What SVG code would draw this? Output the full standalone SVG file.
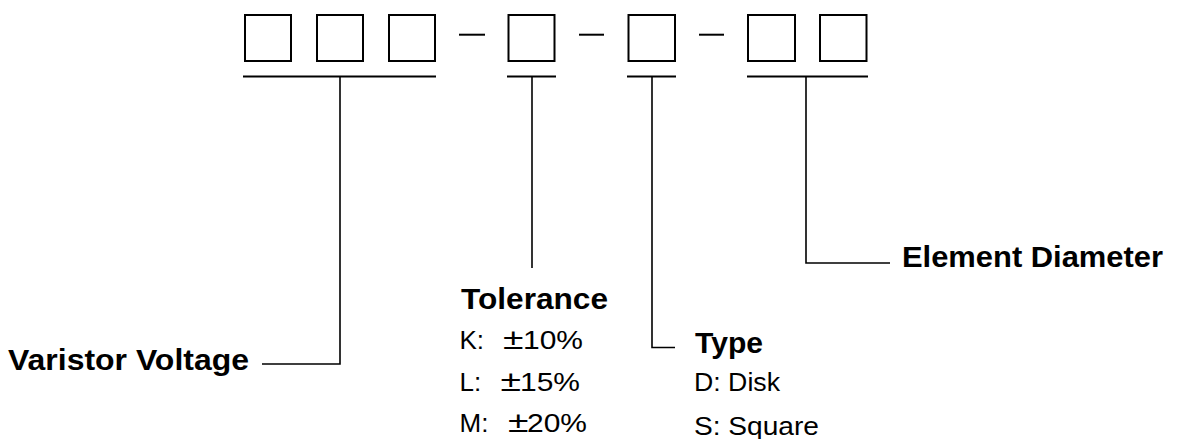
<svg xmlns="http://www.w3.org/2000/svg" width="1181" height="439" viewBox="0 0 1181 439">
<style>
.box{fill:none;stroke:#000;stroke-width:2}
.ln{fill:none;stroke:#000;stroke-width:2}
.cn{fill:none;stroke:#000;stroke-width:1.6}
.h{font-family:"Liberation Sans",Arial,sans-serif;font-weight:bold;font-size:30px;fill:#000}
.t{font-family:"Liberation Sans",Arial,sans-serif;font-size:26px;fill:#000}
.pm{font-family:"Liberation Sans",Arial,sans-serif;font-size:29px;fill:#000}
</style>
<rect width="1181" height="439" fill="#fff"/>
<g id="code">
<rect class="box" x="245" y="15" width="46" height="46"/>
<rect class="box" x="317" y="15" width="46" height="46"/>
<rect class="box" x="389" y="15" width="46" height="46"/>
<line class="ln" x1="459" y1="34.7" x2="485" y2="34.7"/>
<rect class="box" x="508.5" y="15" width="46" height="46"/>
<line class="ln" x1="579" y1="34.7" x2="604" y2="34.7"/>
<rect class="box" x="628.5" y="15" width="46.5" height="46"/>
<line class="ln" x1="699" y1="34.7" x2="724" y2="34.7"/>
<rect class="box" x="748" y="15" width="47" height="46"/>
<rect class="box" x="820" y="15" width="46.5" height="46"/>
</g>
<g id="connectors">
<line class="ln" x1="243" y1="76.5" x2="436" y2="76.5"/>
<line class="ln" x1="507" y1="76.5" x2="556" y2="76.5"/>
<line class="ln" x1="627" y1="76.5" x2="676" y2="76.5"/>
<line class="ln" x1="747" y1="76.5" x2="868" y2="76.5"/>
<polyline class="cn" points="340,76 340,364 262,364"/>
<line class="cn" x1="532" y1="76" x2="532" y2="268"/>
<polyline class="cn" points="652,76 652,347.5 675,347.5"/>
<polyline class="cn" points="806,76 806,263 890,263"/>
</g>
<g id="varistor-voltage">
<text class="h" x="8" y="370" textLength="241" lengthAdjust="spacingAndGlyphs">Varistor Voltage</text>
</g>
<g id="tolerance">
<text class="h" x="461" y="309" textLength="147" lengthAdjust="spacingAndGlyphs">Tolerance</text>
<text class="t" x="459.5" y="349">K:</text>
<text class="pm" x="503" y="349" textLength="20.5" lengthAdjust="spacingAndGlyphs">±</text>
<text class="t" x="523" y="349" textLength="60" lengthAdjust="spacingAndGlyphs">10%</text>
<text class="t" x="459.5" y="391">L:</text>
<text class="pm" x="500.5" y="391" textLength="20.5" lengthAdjust="spacingAndGlyphs">±</text>
<text class="t" x="520" y="391" textLength="60" lengthAdjust="spacingAndGlyphs">15%</text>
<text class="t" x="459.5" y="431.5">M:</text>
<text class="pm" x="508" y="431.5" textLength="20.5" lengthAdjust="spacingAndGlyphs">±</text>
<text class="t" x="527" y="431.5" textLength="60" lengthAdjust="spacingAndGlyphs">20%</text>
</g>
<g id="type">
<text class="h" x="695" y="353" textLength="68" lengthAdjust="spacingAndGlyphs">Type</text>
<text class="t" x="694" y="391" textLength="86" lengthAdjust="spacingAndGlyphs">D: Disk</text>
<text class="t" x="694" y="435" textLength="125" lengthAdjust="spacingAndGlyphs">S: Square</text>
</g>
<g id="element-diameter">
<text class="h" x="902" y="267" textLength="261" lengthAdjust="spacingAndGlyphs">Element Diameter</text>
</g>
</svg>
